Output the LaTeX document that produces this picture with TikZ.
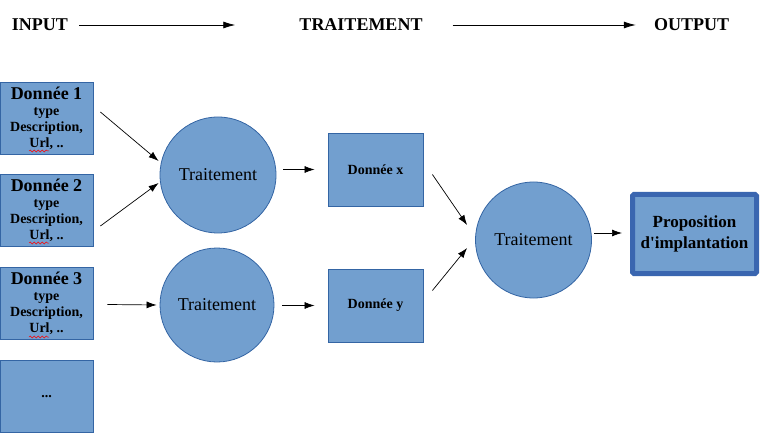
\documentclass[tikz,border=0pt]{standalone}
\usepackage{fontspec}
\setmainfont{Liberation Serif}
\newfontfamily\tnr{Liberation Serif}
\usetikzlibrary{arrows.meta,decorations.pathmorphing}
\definecolor{fillc}{HTML}{729FCF}
\definecolor{bordc}{HTML}{3465A4}
\definecolor{propc}{HTML}{3A66B0}
\begin{document}
\begin{tikzpicture}[x=1pt,y=-1pt,
  box/.style={draw=bordc, fill=fillc, line width=0.8pt, minimum width=93pt, minimum height=72pt,
    inner sep=0pt, align=center, font=\tnr\bfseries\fontsize{14}{16}\selectfont},
  smallbox/.style={box, minimum width=95pt, minimum height=73pt},
  circ/.style={circle, draw=bordc, fill=fillc, line width=0.8pt, inner sep=0pt,
    font=\tnr\fontsize{18}{20}\selectfont},
  hdr/.style={inner sep=0pt, font=\tnr\bfseries\fontsize{18}{20}\selectfont},
  arr/.style={-{Latex[length=10pt,width=7pt]}, line width=0.7pt, black},
  harr/.style={-{Latex[length=12pt,width=7pt]}, line width=0.8pt, black},
  wavy/.style={red, line width=0.5pt, decorate, decoration={snake, amplitude=1pt, segment length=4pt}}
]
\useasboundingbox (0,0) rectangle (762,438);

% header
\node[hdr] (in) at (40,25) {INPUT};
\node[hdr] (tr) at (361,25) {TRAITEMENT};
\node[hdr] (out) at (691.5,25) {OUTPUT};
\draw[harr, shorten <=11pt, shorten >=64pt] (in.east) -- (in.east -| tr.west);
\draw[harr, shorten <=30pt, shorten >=18pt] (tr.east) -- (tr.east -| out.west);

% input boxes
\node[box] (d1) at (46.5,118) {{\fontsize{18}{17}\selectfont Donnée 1}\\type\\Description,\\Url, ..};
\node[box] (d2) at (46.5,210) {{\fontsize{18}{17}\selectfont Donnée 2}\\type\\Description,\\Url, ..};
\node[box] (d3) at (46.5,303.5) {{\fontsize{18}{17}\selectfont Donnée 3}\\type\\Description,\\Url, ..};
\node[box] (d4) at (46.5,396.5) {...};

% spell-check underlines
\draw[wavy] ([shift={(-17.5,33)}]d1.center) -- ++(20,0);
\draw[wavy] ([shift={(-17.5,33)}]d2.center) -- ++(20,0);
\draw[wavy] ([shift={(-17.5,33.5)}]d3.center) -- ++(20,0);

% circles
\node[circ, minimum size=116pt] (c1) at (218,175) {Traitement};
\node[circ, minimum size=114pt] (c2) at (217,305) {Traitement};
\node[circ, minimum size=116pt] (c3) at (533.5,240) {Traitement};

% data boxes
\node[smallbox] (dx) at (375.5,169.5) {Donnée x};
\node[smallbox] (dy) at (375.5,305.5) {Donnée y};

% proposition
\node[draw=propc, fill=fillc, line width=5pt, rounded corners=1.5pt, minimum width=124pt, minimum height=79pt,
  inner sep=0pt, align=center, font=\tnr\bfseries\fontsize{17}{21}\selectfont] (prop) at (694.5,234)
  {Proposition\\d\textquotesingle implantation};

% connectors
\draw[arr] ([shift={(7,-6)}]d1.east) -- ([shift={(-1,-14)}]c1.west);
\draw[arr] ([shift={(7,16)}]d2.east) -- ([shift={(-1,8)}]c1.west);
\draw[arr] ([shift={(14,1)}]d3.east) -- ([shift={(-3,0)}]c2.west);
\draw[arr] ([shift={(7,0)}]c1.east |- dx.west) -- ([shift={(-13,0)}]dx.west);
\draw[arr] ([shift={(8,0)}]c2.east |- dy.west) -- ([shift={(-13,0)}]dy.west);
\draw[arr] ([shift={(9,5)}]dx.east) -- ([shift={(-8,-15)}]c3.west);
\draw[arr] ([shift={(9,-15)}]dy.east) -- ([shift={(-8,8)}]c3.west);
\draw[arr] ([shift={(2,-7)}]c3.east) -- ([shift={(-8,-1)}]prop.west);
\end{tikzpicture}
\end{document}
